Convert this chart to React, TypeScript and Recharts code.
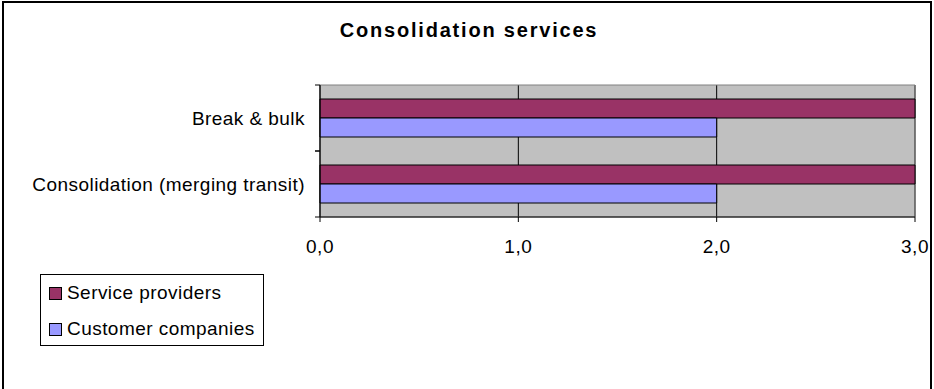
import React from 'react';
import { BarChart, Bar, XAxis, YAxis, CartesianGrid, Legend, ReferenceArea } from 'recharts';

const categories = ['Break & bulk', 'Consolidation (merging transit)'];
const serviceProviders = [3, 3];
const customerCompanies = [2, 2];
const xTicks = [0, 1, 2, 3];

const series = [
  { key: 'providers', name: 'Service providers', color: '#993366' },
  { key: 'customers', name: 'Customer companies', color: '#9999FF' },
];

const data = categories.map((name, i) => ({
  name,
  providers: serviceProviders[i],
  customers: customerCompanies[i],
}));

const FONT = '"Liberation Sans", Arial, sans-serif';

// category name, plus short tick marks on the band edges
const CategoryTick = (props: any) => {
  const { x, y, payload, height, visibleTicksCount } = props;
  const half = height / (visibleTicksCount || categories.length) / 2;
  return (
    <g>
      <line x1={x + 10} x2={x + 15} y1={y - half} y2={y - half} stroke="#000" />
      <line x1={x + 10} x2={x + 15} y1={y + half} y2={y + half} stroke="#000" />
      <text x={x} y={y} dy="0.35em" textAnchor="end" fill="#000" fontSize={19} letterSpacing={0.45} fontFamily={FONT}>
        {payload.value}
      </text>
    </g>
  );
};

const LegendBox = () => (
  <div
    style={{
      border: '1px solid #000',
      width: 224,
      height: 72,
      boxSizing: 'border-box',
      padding: '0 0 0 8px',
      background: '#fff',
      fontFamily: FONT,
      fontSize: 19,
      letterSpacing: 0.45,
      color: '#000',
    }}
  >
    {series.map((s) => (
      <div key={s.key} style={{ display: 'flex', alignItems: 'center', height: 36 }}>
        <span
          style={{
            display: 'inline-block',
            width: 11,
            height: 11,
            background: s.color,
            border: '1px solid #000',
            marginRight: 5,
          }}
        />
        <span>{s.name}</span>
      </div>
    ))}
  </div>
);

export default function App() {
  return (
    <div style={{ position: 'absolute', left: 0, top: 0, width: 934, height: 389, background: '#fff', overflow: 'hidden' }}>
      <div
        style={{
          position: 'absolute',
          left: 2,
          top: 1,
          width: 930,
          height: 420,
          border: '2px solid #000',
          boxSizing: 'border-box',
        }}
      />
      <div
        style={{
          position: 'absolute',
          left: 0,
          top: 19,
          width: 938,
          textAlign: 'center',
          fontFamily: FONT,
          fontWeight: 'bold',
          fontSize: 20,
          letterSpacing: 1.8,
          color: '#000',
        }}
      >
        Consolidation services
      </div>
      <div style={{ position: 'absolute', left: 0, top: 0 }}>
        <BarChart
          width={934}
          height={389}
          data={data}
          layout="vertical"
          margin={{ top: 85, right: 19, bottom: 142, left: 0 }}
          barCategoryGap={14}
          barGap={0}
        >
          <CartesianGrid horizontal={false} stroke="#000" fill="#C0C0C0" fillOpacity={1} />
          <XAxis
            type="number"
            domain={[0, 3]}
            ticks={xTicks}
            interval={0}
            height={30}
            tickFormatter={(v: number) => v.toFixed(1).replace('.', ',')}
            axisLine={{ stroke: '#000' }}
            tickLine={{ stroke: '#000' }}
            tickSize={5}
            tickMargin={18}
            tick={{ fill: '#000', fontSize: 19, letterSpacing: 0.5, fontFamily: FONT }}
          />
          <YAxis
            type="category"
            dataKey="name"
            width={320}
            interval={0}
            axisLine={{ stroke: '#000' }}
            tickLine={false}
            tickSize={5}
            tickMargin={10}
            tick={<CategoryTick />}
          />
          <ReferenceArea x1={0} x2={3} fill="none" stroke="#808080" ifOverflow="visible" />
          {series.map((s) => (
            <Bar
              key={s.key}
              dataKey={s.key}
              name={s.name}
              fill={s.color}
              stroke="#000"
              strokeWidth={1}
              isAnimationActive={false}
            />
          ))}
          <Legend
            layout="vertical"
            align="center"
            verticalAlign="middle"
            content={() => <LegendBox />}
            wrapperStyle={{ left: 40, top: 274, width: 225, height: 73 }}
          />
        </BarChart>
      </div>
    </div>
  );
}
